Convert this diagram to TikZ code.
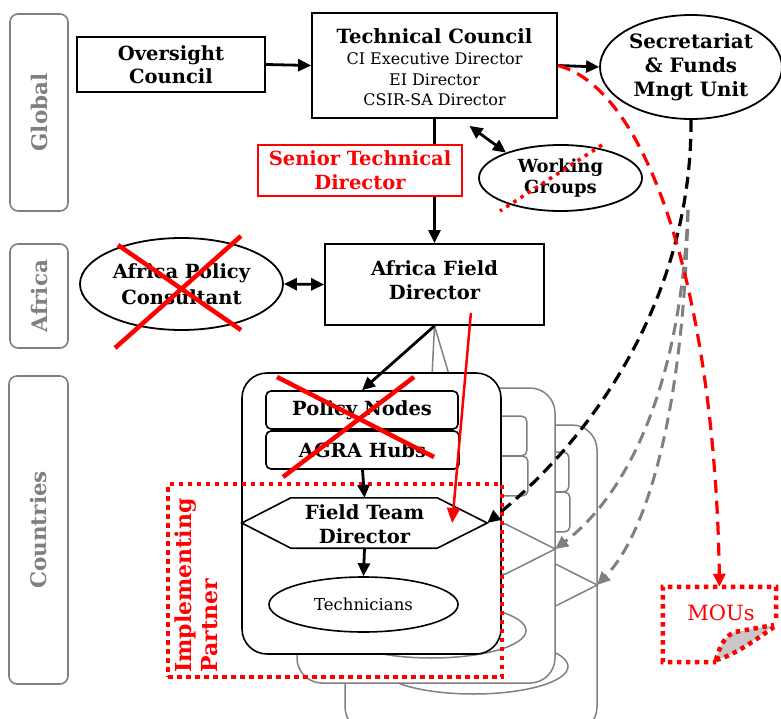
\documentclass[tikz,border=0pt]{standalone}
\usepackage{fontspec}
\setmainfont{DejaVu Serif}
\usetikzlibrary{arrows.meta,shapes.geometric,calc}
\pgfdeclarelayer{back}
\pgfsetlayers{back,main}
\definecolor{lanegray}{RGB}{128,128,128}
\definecolor{foldgray}{RGB}{200,200,200}
\newcommand{\setfs}[2]{\fontsize{#1}{#2}\selectfont}

\begin{document}
\begin{tikzpicture}[x=1pt,y=-1pt,
  lanebox/.style={draw=lanegray, line width=1.6pt, rounded corners=8pt, text=lanegray,
    font=\bfseries\setfs{21.5}{24}, rotate=90, inner sep=0},
  box/.style={draw, line width=1.8pt, fill=white, inner sep=0, align=center},
  lbl/.style={font=\bfseries\setfs{19.5}{24}, align=center, inner sep=0},
  sublbl/.style={font=\setfs{16}{20.5}, align=center, inner sep=0},
  subbox/.style={draw, line width=1.6pt, fill=white, rounded corners=5pt, inner sep=0,
    font=\bfseries\setfs{19.5}{22}},
  copyline/.style={draw=lanegray, line width=1.5pt},
  tip/.style={-{Triangle[length=13pt,width=12pt]}},
  arr/.style={line width=2.8pt, tip},
  darr/.style={line width=2.8pt, {Triangle[length=13pt,width=12pt]}-{Triangle[length=13pt,width=12pt]}},
  dashedarr/.style={line width=3.2pt, dash pattern=on 12pt off 7pt, tip},
  redx/.style={red, line width=4.5pt},
  reddots/.style={red, line width=4.5pt, dash pattern=on 4.5pt off 4.5pt},
]
\useasboundingbox (0,0) rectangle (781,719);

% level lanes
\node[lanebox, minimum width=197pt, minimum height=58pt] (global) at (39,112.5) {Global};
\node[lanebox, minimum width=104pt, minimum height=58pt] (africa) at (39,296) {Africa};
\node[lanebox, minimum width=308pt, minimum height=59pt] (countries) at (38.5,530) {Countries};

% global level
\node[box, minimum width=188pt, minimum height=55pt, font=\bfseries\setfs{19.5}{23}] (oversight) at (171,64.5) {Oversight\\Council};
\node[box, minimum width=245pt, minimum height=105pt] (tc) at (434.5,65.5) {};
\node[lbl, font=\bfseries\setfs{19.6}{24}] (tctitle) at (434.5,36) {Technical Council};
\node[sublbl] (tcmembers) at (434.5,79.5) {CI Executive Director\\EI Director\\CSIR-SA Director};
\node[box, ellipse, minimum width=182pt, minimum height=104pt, font=\bfseries\setfs{19.8}{24}] (sec) at (691,67) {Secretariat\\\& Funds\\Mngt Unit};
\node[box, ellipse, minimum width=163pt, minimum height=66pt, font=\bfseries\setfs{18}{21}] (wg) at (560.5,178) {Working\\Groups};

% africa level
\node[box, minimum width=219pt, minimum height=81pt] (afd) at (434.5,284.5) {};
\node[lbl] (afdtext) at (434.5,280) {Africa Field\\Director};
\node[box, ellipse, minimum width=203pt, minimum height=92pt, font=\bfseries\setfs{19.5}{26}] (apc) at (181.5,284) {Africa Policy\\Consultant};

% country team (front copy)
\node[box, line width=1.6pt, rounded corners=25pt, minimum width=259pt, minimum height=281pt] (front) at (371.5,513.5) {};
\node[subbox, minimum width=192pt, minimum height=38pt] (pn) at (362,410) {Policy Nodes};
\node[subbox, minimum width=193pt, minimum height=38pt] (agra) at (362.5,450) {AGRA Hubs};
\node[inner sep=0, minimum width=245pt, minimum height=50pt] (ftd) at (364.5,523) {};
\draw[line width=1.6pt, fill=white] (ftd.west) -- ($(ftd.north west)+(49,0)$) -- ($(ftd.north east)+(-50,0)$)
  -- (ftd.east) -- ($(ftd.south east)+(-50,0)$) -- ($(ftd.south west)+(49,0)$) -- cycle;
\node[lbl] (ftdtext) at (364.5,524) {Field Team\\Director};
\node[draw, line width=1.6pt, ellipse, minimum width=189pt, minimum height=55pt, inner sep=0, font=\setfs{16.5}{18}] (tech) at (363.5,604.5) {Technicians};

% stacked copies for the other countries
\begin{pgfonlayer}{back}
  \foreach \L/\T/\R/\B/\dx/\dy in {345/425/597/732/110/62, 297/388/555/683/68/26} {
    \draw[copyline, fill=white, rounded corners=25pt] (\L,\T) rectangle (\R,\B);
    \draw[copyline, rounded corners=5pt] ($(pn.north west)+(\dx,\dy)$) rectangle ($(pn.south east)+(\dx,\dy)$);
    \draw[copyline, rounded corners=5pt] ($(agra.north west)+(\dx,\dy)$) rectangle ($(agra.south east)+(\dx,\dy)$);
    \draw[copyline] ($(ftd.west)+(\dx,\dy)$) -- ($(ftd.north west)+(49+\dx,\dy)$) -- ($(ftd.north east)+(-50+\dx,\dy)$)
      -- ($(ftd.east)+(\dx,\dy)$) -- ($(ftd.south east)+(-50+\dx,\dy)$) -- ($(ftd.south west)+(49+\dx,\dy)$) -- cycle;
    \draw[copyline] ($(tech.center)+(\dx,\dy)$) ellipse [x radius=94.5pt, y radius=27.5pt];
  }
  \draw[copyline] (afd.south) -- ($(pn.north)+(68,26)$);
  \draw[copyline] (afd.south) -- ($(pn.north)+(110,62)$);
\end{pgfonlayer}

% implementing partner
\node[reddots, draw, inner sep=0, minimum width=334pt, minimum height=193pt] (ip) at (335,580.5) {};
\node[rotate=90, anchor=north west, inner sep=0, text=red, align=left, font=\bfseries\setfs{22}{26}] (iptext) at (175,673) {Implementing\\Partner};

% MOUs note with folded corner
\node[inner sep=0, minimum width=113pt, minimum height=75pt] (mous) at (719.5,624.5) {};
\node[inner sep=0, text=red, font=\setfs{21}{22}] (moustext) at (721,613) {MOUs};
\fill[foldgray] (716,660) .. controls (720,645) and (725,636) .. (735,632) -- (774,625)
  .. controls (755,640) and (735,655) .. (716,660) -- cycle;
\draw[reddots] (776,618) -- (mous.north east) -- (mous.north west) -- (mous.south west) -- (716,662);
\draw[reddots] (716,660) .. controls (720,645) and (725,636) .. (735,632) -- (774,625);
\draw[reddots] (716,660) .. controls (735,655) and (755,640) .. (774,627);

% connectors
\draw[arr] (oversight.east) -- (tc.west);
\draw[arr] (tc.east) -- (sec.west);
\draw[arr] (tc.south) -- (afd.north);
\node[box, draw=red, text=red, minimum width=204pt, minimum height=51pt, font=\bfseries\setfs{19.5}{24}] (std) at (360,170.5) {Senior Technical\\Director};
\draw[darr] ($(tc.south)+(35,7)$) -- (wg.155);
\draw[darr] (apc.east) -- (afd.west);
\draw[arr] (afd.south) -- (pn.north);
\draw[arr] (agra.south) -- (ftd.north);
\draw[arr] (ftd.south) -- (tech.north);
\draw[red, line width=2.5pt, -{Triangle[length=15pt,width=13pt]}] ($(afd.south east)+(-74,-13)$) -- ($(ftd.east)+(-35,0)$);

\coordinate (fan) at ($(sec.south)+(-3,90)$);
\draw[dashedarr, lanegray, line width=3pt] (fan) .. controls (680,400) and (620,500) .. ($(ftd.east)+(68,26)$);
\draw[dashedarr, lanegray, line width=3pt] (fan) .. controls (684,400) and (650,530) .. ($(ftd.east)+(110,62)$);
\draw[dashedarr] (sec.south) .. controls (692,300) and (590,440) .. (ftd.east);
\draw[dashedarr, red, dash pattern=on 13pt off 8pt] (tc.east) .. controls (650,90) and (715,300) .. (mous.north);

% struck-out units
\draw[red, line width=3.5pt, dash pattern=on 3.5pt off 5pt] (602,145) -- (500,211);
\draw[redx] (118,245) -- (241,330);
\draw[redx] (241,236) -- (115,348);
\draw[redx] (277,377) -- (434,457);
\draw[redx] (414,377) -- (283,477);
\end{tikzpicture}
\end{document}
